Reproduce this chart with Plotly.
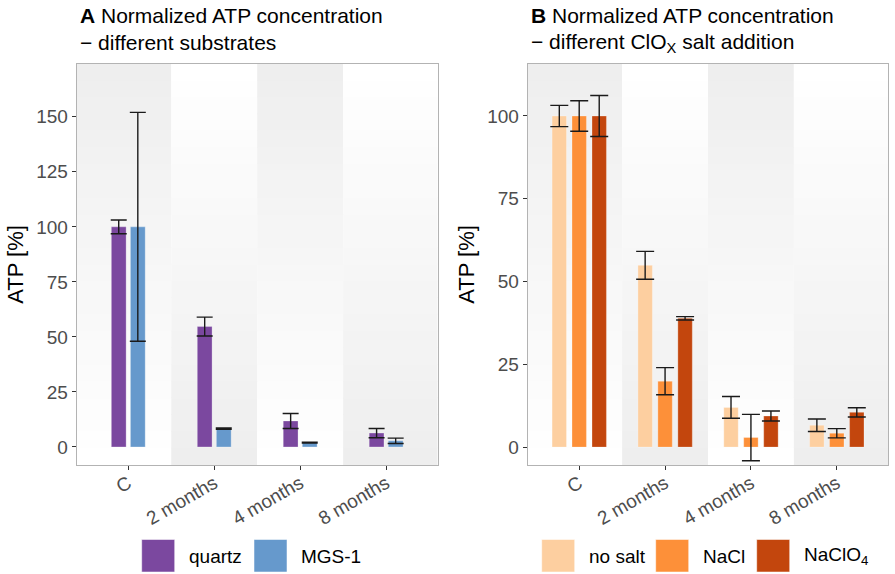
import plotly.graph_objects as go

W, H = 895, 574

# ---------------- data ----------------
categories = ["C", "2 months", "4 months", "8 months"]

substrates = ["quartz", "MGS-1"]
quartz_mean = [100, 54.7, 11.8, 6.3]
quartz_err = [3.1, 4.3, 3.4, 2.1]
mgs_mean = [100, 8.3, 2.0, 2.8]
mgs_err = [52.0, 0.3, 0.2, 1.2]

salts = ["no salt", "NaCl", "NaClO<sub>4</sub>"]
nosalt_mean = [100, 54.9, 12.0, 6.6]
nosalt_err = [3.2, 4.2, 3.3, 1.9]
nacl_mean = [100, 19.9, 2.9, 4.2]
nacl_err = [4.6, 4.1, 7.0, 1.4]
naclo4_mean = [100, 38.9, 9.4, 10.5]
naclo4_err = [6.2, 0.5, 1.5, 1.4]

yticks_a = [0, 25, 50, 75, 100, 125, 150]
yticks_b = [0, 25, 50, 75, 100]

title_a = ["<b>A</b> Normalized ATP concentration", "− different substrates"]
title_b = ["<b>B</b> Normalized ATP concentration", "− different ClO<sub>X</sub> salt addition"]
y_title = "ATP [%]"

colors_a = ["#7b489f", "#6699cc"]
colors_b = ["#fdcfa0", "#fd9039", "#c3460d"]

# ---------------- helpers ----------------
FONT = "Liberation Sans, Arial, sans-serif"


def fx(px):
    return px / W


def fy(py):
    return 1 - py / H


dom_a = [fx(76.7), fx(437.7)]
dom_b = [fx(527.7), fx(888.3)]
dom_y = [fy(465), fy(64)]

fig = go.Figure()

err_style = dict(type="data", visible=True, color="#1a1a1a", thickness=1.4)

# panel A bars
series_a = [(quartz_mean, quartz_err), (mgs_mean, mgs_err)]
offsets_a = [-0.197, 0.025]
for name, (m, e), c, off in zip(substrates, series_a, colors_a, offsets_a):
    fig.add_trace(go.Bar(
        x=categories, y=m, name=name, xaxis="x", yaxis="y",
        marker=dict(color=c, line=dict(color="rgba(255,255,255,0.35)", width=0.8)),
        width=0.172, offset=off,
        error_y=dict(array=e, width=8, **err_style),
        showlegend=False,
    ))

# panel B bars
series_b = [(nosalt_mean, nosalt_err), (nacl_mean, nacl_err), (naclo4_mean, naclo4_err)]
offsets_b = [-0.316, -0.084, 0.149]
for name, (m, e), c, off in zip(salts, series_b, colors_b, offsets_b):
    fig.add_trace(go.Bar(
        x=categories, y=m, name=name, xaxis="x2", yaxis="y2",
        marker=dict(color=c, line=dict(color="rgba(255,255,255,0.35)", width=0.8)),
        width=0.168, offset=off,
        error_y=dict(array=e, width=9, **err_style),
        showlegend=False,
    ))

# gradient background stripes
shapes = []
N = 24
for xr, yr in (("x", "y domain"), ("x2", "y2 domain")):
    for i in range(len(categories)):
        x0 = i - 0.5 if i > 0 else -0.6
        x1 = i + 0.5 if i < len(categories) - 1 else len(categories) - 0.4
        for k in range(N):
            t = (k + 0.5) / N  # 0 bottom, 1 top
            g = t if i % 2 == 0 else 1 - t
            v = int(round(255 - g * (255 - 238)))
            shapes.append(dict(
                type="rect", xref=xr, yref=yr, x0=x0, x1=x1,
                y0=k / N, y1=(k + 1) / N + 0.002,
                fillcolor=f"rgb({v},{v},{v})", line=dict(width=0), layer="below",
            ))

annotations = []
# titles
for (l1, l2), px in ((title_a, 78), (title_b, 529)):
    annotations.append(dict(text=l1, xref="paper", yref="paper", x=fx(px), y=fy(16),
                            xanchor="left", yanchor="middle", showarrow=False,
                            font=dict(family=FONT, size=21, color="black")))
    annotations.append(dict(text=l2, xref="paper", yref="paper", x=fx(px), y=fy(43),
                            xanchor="left", yanchor="middle", showarrow=False,
                            font=dict(family=FONT, size=21, color="black")))

# custom legends (large keys like ggplot)
legend_a = [(substrates[0], colors_a[0], 141.7, 187), (substrates[1], colors_a[1], 254, 299)]
legend_b = [(salts[0], colors_b[0], 541.7, 587), (salts[1], colors_b[1], 655.7, 701),
            (salts[2], colors_b[2], 756.7, 802)]
for label, c, sx, tx in legend_a + legend_b:
    shapes.append(dict(type="rect", xref="paper", yref="paper",
                       x0=fx(sx), x1=fx(sx + 33), y0=fy(572), y1=fy(539.5),
                       fillcolor=c, line=dict(color="rgba(255,255,255,0.5)", width=1)))
    annotations.append(dict(text=label, xref="paper", yref="paper", x=fx(tx), y=fy(556),
                            xanchor="left", yanchor="middle", showarrow=False,
                            font=dict(family=FONT, size=19, color="black")))

xaxis_common = dict(
    type="category", range=[-0.6, len(categories) - 0.4], showgrid=False, zeroline=False,
    showline=True, mirror=True, linecolor="#b3b3b3", linewidth=1, automargin=False,
    ticks="outside", ticklen=4, tickcolor="#333333", tickwidth=1.2, tickangle=-30,
    ticklabelstandoff=-5,
    tickfont=dict(family=FONT, size=19, color="#4d4d4d"),
)
yaxis_common = dict(
    showgrid=False, zeroline=False, showline=True, mirror=True, linecolor="#b3b3b3",
    linewidth=1, ticks="outside", ticklen=4, tickcolor="#333333", tickwidth=1.2,
    automargin=False,
    tickfont=dict(family=FONT, size=19, color="#4d4d4d"),
    title=dict(text=y_title, font=dict(family=FONT, size=22, color="black"), standoff=6),
)

fig.update_layout(
    width=W, height=H, margin=dict(l=0, r=0, t=0, b=0),
    paper_bgcolor="white", plot_bgcolor="white",
    showlegend=False,
    xaxis=dict(domain=dom_a, anchor="y", **xaxis_common),
    yaxis=dict(domain=dom_y, anchor="x", range=[-8.2, 174], tickvals=yticks_a, **yaxis_common),
    xaxis2=dict(domain=dom_b, anchor="y2", **xaxis_common),
    yaxis2=dict(domain=dom_y, anchor="x2", range=[-5.4, 115.7], tickvals=yticks_b, **yaxis_common),
    shapes=shapes, annotations=annotations,
    font=dict(family=FONT),
)

fig.write_html("out.html", config={"displayModeBar": False},
               post_script="document.body.style.margin='0';")
